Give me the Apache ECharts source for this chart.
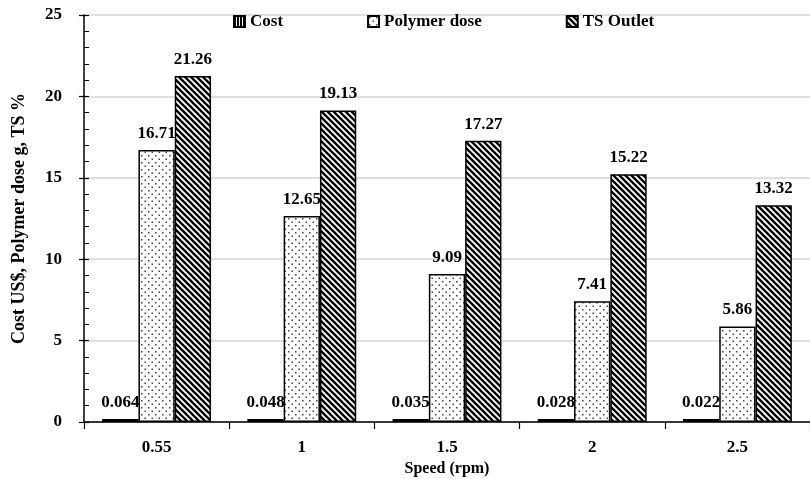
<!DOCTYPE html>
<html>
<head>
<meta charset="utf-8">
<script src="https://cdn.jsdelivr.net/npm/echarts@6/dist/echarts.min.js"></script>
<style>
  html, body { margin: 0; padding: 0; background: #fff; }
  #chart { width: 810px; height: 479px; }
</style>
</head>
<body>
<div id="chart"></div>
<script>
  var categories = ['0.55', '1', '1.5', '2', '2.5'];
  var costData = [0.064, 0.048, 0.035, 0.028, 0.022];
  var polymerData = [16.71, 12.65, 9.09, 7.41, 5.86];
  var tsData = [21.26, 19.13, 17.27, 15.22, 13.32];
  var yTicks = [0, 5, 10, 15, 20, 25];

  var fontFam = '"Liberation Serif", "Times New Roman", serif';

  // hatch patterns drawn on small canvases
  function makeTile(w, h, draw) {
    var c = document.createElement('canvas');
    c.width = w; c.height = h;
    var ctx = c.getContext('2d');
    ctx.fillStyle = '#fff';
    ctx.fillRect(0, 0, w, h);
    draw(ctx);
    return c;
  }
  var vStripes = makeTile(3, 3, function (ctx) {
    ctx.fillStyle = '#000';
    ctx.fillRect(0, 0, 2, 3);
  });
  var dots = makeTile(7, 7, function (ctx) {
    ctx.fillStyle = '#444';
    ctx.fillRect(1, 1, 1.5, 1.5);
    ctx.fillRect(4.5, 4.5, 1.5, 1.5);
  });
  var diag = makeTile(6, 6, function (ctx) {
    ctx.strokeStyle = '#000';
    ctx.lineWidth = 2.3;
    ctx.beginPath();
    ctx.moveTo(-1, -1); ctx.lineTo(7, 7);
    ctx.moveTo(-7, -1); ctx.lineTo(1, 7);
    ctx.moveTo(5, -1); ctx.lineTo(13, 7);
    ctx.stroke();
  });

  var labelStyle = {
    show: true,
    position: 'top',
    distance: 8,
    color: '#000',
    fontFamily: fontFam,
    fontWeight: 'bold',
    fontSize: 17
  };

  var chart = echarts.init(document.getElementById('chart'));
  chart.setOption({
    animation: false,
    backgroundColor: '#fff',
    textStyle: { fontFamily: fontFam },
    grid: { left: 84, right: 0, top: 15, bottom: 57, outerBoundsMode: 'none' },
    legend: {
      left: 228,
      top: 8,
      itemGap: 84,
      itemWidth: 11,
      itemHeight: 11,
      icon: 'rect',
      textStyle: { fontFamily: fontFam, fontWeight: 'bold', fontSize: 17, color: '#000' },
      data: ['Cost', 'Polymer dose', 'TS Outlet']
    },
    xAxis: {
      type: 'category',
      data: categories,
      name: 'Speed (rpm)',
      nameLocation: 'middle',
      nameGap: 38,
      nameTextStyle: { fontFamily: fontFam, fontWeight: 'bold', fontSize: 16, color: '#000' },
      axisLine: { lineStyle: { color: '#000', width: 1.5 } },
      axisTick: { show: true, length: 7, lineStyle: { color: '#000', width: 1.2 } },
      axisLabel: { margin: 17, color: '#000', fontFamily: fontFam, fontWeight: 'bold', fontSize: 17 }
    },
    yAxis: [{
      type: 'value',
      min: 0,
      max: 25,
      interval: 5,
      name: 'Cost US$, Polymer dose g, TS %',
      nameLocation: 'middle',
      nameGap: 56,
      nameTextStyle: { fontFamily: fontFam, fontWeight: 'bold', fontSize: 18, color: '#000' },
      axisLine: { show: true, lineStyle: { color: '#000', width: 1.5 } },
      axisTick: { show: true, inside: true, length: 5, lineStyle: { color: '#000', width: 1.2 } },
      minorTick: { show: true, splitNumber: 5, length: 5, lineStyle: { color: '#000', width: 1 } },
      axisLabel: {
        margin: 22, color: '#000', fontFamily: fontFam, fontWeight: 'bold', fontSize: 17,
        formatter: function (v) { return yTicks.indexOf(v) >= 0 ? String(v) : ''; }
      },
      splitLine: { show: true, lineStyle: { color: '#d4d4d4', width: 1.5 } }
    }, {
      // second copy only for the outward half of the major ticks
      type: 'value',
      min: 0,
      max: 25,
      interval: 5,
      position: 'left',
      axisLine: { show: false },
      axisTick: { show: true, inside: false, length: 5, lineStyle: { color: '#000', width: 1.2 } },
      axisLabel: { show: false },
      splitLine: { show: false }
    }],
    series: [{
      name: 'Cost',
      type: 'bar',
      barGap: 0,
      barCategoryGap: '25%',
      barMinHeight: 3,
      data: costData,
      itemStyle: { color: { image: vStripes, repeat: 'repeat' }, borderColor: '#000', borderWidth: 1.5 },
      label: labelStyle
    }, {
      name: 'Polymer dose',
      type: 'bar',
      data: polymerData,
      itemStyle: { color: { image: dots, repeat: 'repeat' }, borderColor: '#000', borderWidth: 1.5 },
      label: labelStyle
    }, {
      name: 'TS Outlet',
      type: 'bar',
      data: tsData,
      itemStyle: { color: { image: diag, repeat: 'repeat' }, borderColor: '#000', borderWidth: 1.5 },
      label: labelStyle
    }]
  });
</script>
</body>
</html>
